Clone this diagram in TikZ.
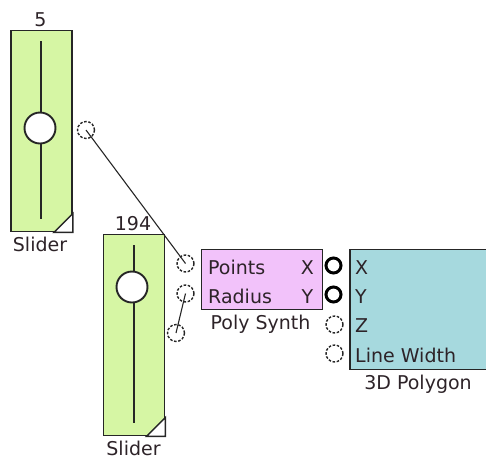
\documentclass[tikz,border=0pt]{standalone}
\usepackage{fontspec}
\setmainfont{DejaVu Sans}
\usetikzlibrary{positioning,calc}
\definecolor{sgreen}{RGB}{214,246,164}
\definecolor{spink}{RGB}{242,194,250}
\definecolor{steal}{RGB}{166,217,222}
\definecolor{stext}{RGB}{45,35,40}

\begin{document}
\begin{tikzpicture}[x=1pt,y=-1pt,font=\fontsize{19}{22}\selectfont,
  block/.style={draw=black!85,line width=1.9pt,anchor=north west,inner sep=0pt},
  knob/.style={circle,draw=black!85,fill=white,line width=1.9pt,minimum size=31pt,inner sep=0pt},
  port/.style={circle,draw=black!85,dash pattern=on 2.6pt off 1.6pt,line width=1.4pt,minimum size=17pt,inner sep=0pt},
  outport/.style={circle,draw=black,line width=3pt,minimum size=15pt,inner sep=0pt},
  lbl/.style={inner sep=0pt,text=stext,text height=14pt,text depth=0pt},
  wire/.style={draw=black!85,line width=1.1pt}]
    \useasboundingbox (0,0) rectangle (486,459);
    % sliders
    \node[block,fill=sgreen,minimum width=61pt,minimum height=201pt] (s1) at (10,29.5) {};
    \node[block,fill=sgreen,minimum width=61pt,minimum height=201pt] (s2) at (102.5,233.5) {};
    \foreach \s/\kx/\ky in {s1/40/128,s2/132/287}{
      \draw[line width=2pt,black!85] ($(\s.north)+(0,11.5)$) -- ($(\s.south)+(0,-13)$);
      \node[knob] (\s k) at (\kx,\ky) {};
      \filldraw[fill=white,draw=black!85,line width=1.5pt] ($(\s.south east)+(-19,0)$) -- ($(\s.south east)+(0,-19)$) -- (\s.south east) -- cycle;
    }
    \node[lbl] (s1v) at (40.5,19) {5};
    \node[lbl] (s1n) at (40,244.5) {Slider};
    \node[lbl] (s2v) at (133,223) {194};
    \node[lbl] (s2n) at (133.5,448) {Slider};
    \node[port] (s1o) at (86,130) {};
    \node[port] (s2o) at (176,333) {};
    % poly synth
    \node[block,fill=spink,minimum width=121pt,minimum height=60pt] (ps) at (200.5,248.5) {};
    \node[lbl,anchor=west] (psp) at (208,267) {Points};
    \node[lbl,anchor=west] (psr) at (208,296.5) {Radius};
    \node[lbl] (psx) at (307.5,267) {X};
    \node[lbl] (psy) at (307.5,296.5) {Y};
    \node[lbl] (psn) at (260.5,322.5) {Poly Synth};
    \node[port] (pspi) at (185.5,263.5) {};
    \node[port] (psri) at (185.5,293.5) {};
    \node[outport] (psxo) at (333.5,265.5) {};
    \node[outport] (psyo) at (333.5,294.5) {};
    % 3d polygon
    \node[block,fill=steal,minimum width=146pt,minimum height=120pt] (pg) at (349,248.5) {};
    \node[lbl,anchor=west] (pgx) at (355,267) {X};
    \node[lbl,anchor=west] (pgy) at (355,296) {Y};
    \node[lbl,anchor=west] (pgz) at (355,325) {Z};
    \node[lbl,anchor=west] (pgw) at (355,355) {Line Width};
    \node[lbl] (pgn) at (418,382.5) {3D Polygon};
    \node[port] (pgzi) at (334.5,324.5) {};
    \node[port] (pgwi) at (334.5,353.5) {};
    % wires
    \draw[wire] (s1o.center) -- (pspi.center);
    \draw[wire] (s2o.center) -- (psri.center);
\end{tikzpicture}
\end{document}
